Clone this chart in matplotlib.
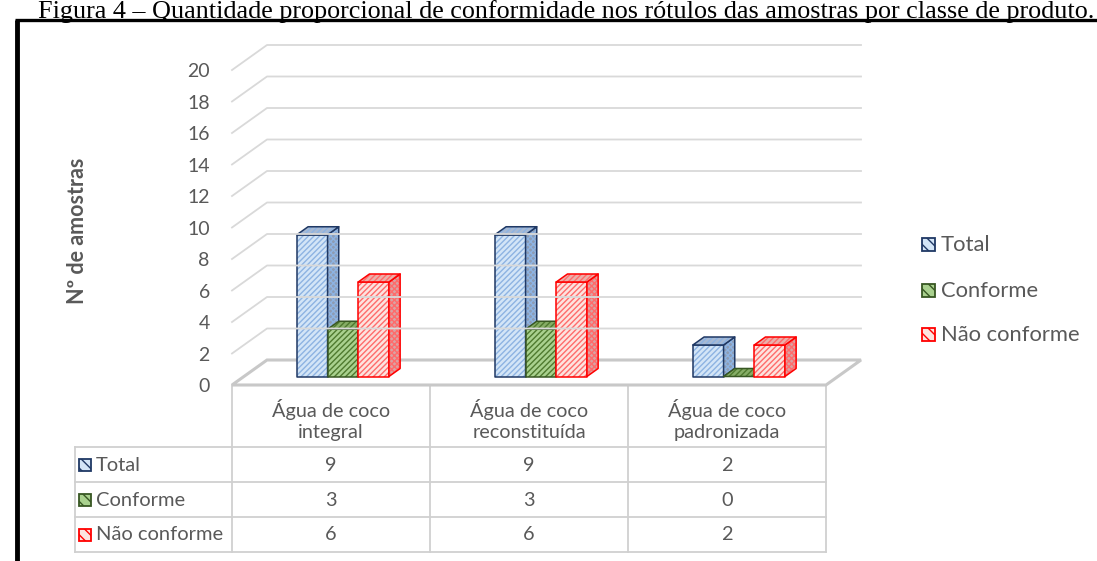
import matplotlib.pyplot as plt
from matplotlib.patches import Polygon, Rectangle
import numpy as np

# data
categorias = ['Água de coco\nintegral', 'Água de coco\nreconstituída', 'Água de coco\npadronizada']
series = ['Total', 'Conforme', 'Não conforme']
total = [9, 9, 2]
conforme = [3, 3, 0]
nao_conforme = [6, 6, 2]
valores = [total, conforme, nao_conforme]
yticks = list(range(0, 21, 2))
titulo = 'Figura 4 – Quantidade proporcional de conformidade nos rótulos das amostras por classe de produto.'

# estilos por serie: frente, hachura, borda, lado, topo
estilos = [
    dict(fc='#d3e5f7', hc='#8db3e2', ec='#1f3864', side='#8e9cb3', top='#a7b9d3'),
    dict(fc='#a9d18e', hc='#4f7a2f', ec='#385723', side='#6b8a4f', top='#86ad66'),
    dict(fc='#fde3df', hc='#ff6b6b', ec='#ff0000', side='#d9a3a3', top='#eab0aa'),
]

W, H = 1097, 561
plt.rcParams['font.family'] = ['Lato', 'DejaVu Sans']
plt.rcParams['hatch.linewidth'] = 1.0
txt = '#595959'
grid = '#d9d9d9'

fig = plt.figure(figsize=(W / 100, H / 100), dpi=100)

# fundo em pixels para moldura, tabela e legenda
bg = fig.add_axes([0, 0, 1, 1])
bg.set_xlim(0, W)
bg.set_ylim(H, 0)
bg.axis('off')

# grafico 3D "falso": x em categorias, y em valores
px_cat, px_val = 198.0, 15.75
ax = fig.add_axes([232 / W, (H - 385) / H, 3 * px_cat / W, 23 * px_val / H])
ax.set_xlim(0, 3)
ax.set_ylim(0, 23)
ax.axis('off')
DX, DY = 35 / px_cat, 25 / px_val   # vetor de profundidade


def face(pts, fc, ec, hc=None, hatch=None, lw=1.1):
    ax.add_patch(Polygon(pts, closed=True, facecolor=fc, edgecolor='none', clip_on=False))
    if hatch:
        ax.add_patch(Polygon(pts, closed=True, facecolor='none', edgecolor=hc, lw=0,
                             hatch=hatch, clip_on=False))
    ax.add_patch(Polygon(pts, closed=True, facecolor='none', edgecolor=ec, lw=lw,
                         joinstyle='round', clip_on=False))


# linhas de grade na parede
for v in yticks[1:]:
    ax.plot([0, DX, 3 + DX], [v, v + DY, v + DY], color=grid, lw=1.3, clip_on=False)
for v in yticks:
    ax.text(-0.112, v - 0.1, str(v), ha='right', va='center', fontsize=14, color=txt)
# piso
ax.add_patch(Polygon([(0, 0), (3, 0), (3 + DX, DY), (DX, DY)], closed=True,
                     facecolor='none', edgecolor='#c8c8c8', lw=2.2, clip_on=False))

# barras
w = 0.155
d0, d1 = 0.34, 0.66
for i in range(len(categorias)):
    for s, vals in enumerate(valores):
        v = vals[i]
        st = estilos[s]
        x0 = i + 0.5 - 1.5 * w + s * w
        x1 = x0 + w
        ox0, oy0 = d0 * DX, d0 * DY
        ox1, oy1 = d1 * DX, d1 * DY
        front = [(x0 + ox0, oy0), (x1 + ox0, oy0), (x1 + ox0, v + oy0), (x0 + ox0, v + oy0)]
        side = [(x1 + ox0, oy0), (x1 + ox1, oy1), (x1 + ox1, v + oy1), (x1 + ox0, v + oy0)]
        top = [(x0 + ox0, v + oy0), (x1 + ox0, v + oy0), (x1 + ox1, v + oy1), (x0 + ox1, v + oy1)]
        if v > 0:
            face(front, st['fc'], st['ec'], st['hc'], '//////')
            face(side, st['side'], st['ec'], st['hc'], 'xxxxxx')
        face(top, st['top'], st['ec'], st['hc'], '//////')

# titulo e moldura
bg.text(566, 17.5, titulo, ha='center', va='baseline', fontsize=18.8,
        family='Liberation Serif', color='black')
bg.plot([17, 17], [H + 5, 20], color='black', lw=3.5, solid_capstyle='butt')
bg.plot([15, W + 5], [20, 20], color='black', lw=2.4, solid_capstyle='butt')

# rotulo do eixo y
bg.text(77, 231, 'Nº de amostras', rotation=90, ha='center', va='center',
        fontsize=15.5, fontweight='bold', color=txt)

# tabela de dados
tl = '#d0d0d0'
cols = [232 + k * px_cat for k in range(4)]
rows = [447, 482, 517, 552]
for x in cols:
    bg.plot([x, x], [385, rows[-1]], color=tl, lw=1.3)
bg.plot([75, 75], [rows[0], rows[-1]], color=tl, lw=1.3)
for y in rows:
    bg.plot([75, cols[-1]], [y, y], color=tl, lw=1.3)
for i, c in enumerate(categorias):
    bg.text(cols[i] + px_cat / 2, 420, c, ha='center', va='center', fontsize=14.3,
            color=txt, linespacing=1.3)
for s, nome in enumerate(series):
    yc = (rows[s] + rows[s + 1]) / 2
    st = estilos[s]
    bg.add_patch(Rectangle((79, yc - 6), 12, 12, facecolor=st['fc'], edgecolor=st['ec'],
                           lw=1.3, hatch='\\\\\\'))
    bg.text(96, yc + 0.5, nome, ha='left', va='center', fontsize=14.5, color=txt)
    for i in range(len(categorias)):
        bg.text(cols[i] + px_cat / 2, yc + 0.5, str(valores[s][i]), ha='center', va='center',
                fontsize=14.3, color=txt)

# legenda
for s, nome in enumerate(series):
    yc = [244, 290, 334][s]
    st = estilos[s]
    bg.add_patch(Rectangle((922, yc - 6.5), 13, 13, facecolor=st['fc'], edgecolor=st['ec'],
                           lw=1.3, hatch='\\\\\\'))
    bg.text(941, yc + 0.5, nome, ha='left', va='center', fontsize=15.8, color=txt)

fig.savefig('out.png', dpi=100)
